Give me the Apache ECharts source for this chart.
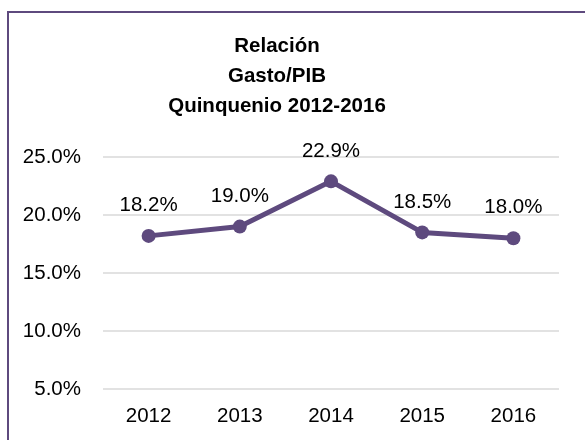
<!DOCTYPE html>
<html>
<head>
<meta charset="utf-8">
<script src="https://cdn.jsdelivr.net/npm/echarts@6/dist/echarts.min.js"></script>
<style>
html,body{margin:0;padding:0;background:#fff;}
#c{width:585px;height:440px;}
</style>
</head>
<body>
<div id="c"></div>
<script>
const titleLines = ['Relación', 'Gasto/PIB', 'Quinquenio 2012-2016'];
const categories = ['2012', '2013', '2014', '2015', '2016'];
const values = [18.2, 19.0, 22.9, 18.5, 18.0];
const yTicks = { min: 5, max: 25, interval: 5 };

const FONT = '"Liberation Sans", Arial, sans-serif';
const PURPLE = '#5e4a7e';

const chart = echarts.init(document.getElementById('c'), null, { renderer: 'canvas' });
chart.setOption({
  backgroundColor: '#ffffff',
  animation: false,
  title: {
    text: titleLines.join('\n'),
    left: 272,
    top: 26,
    textAlign: 'center',
    textStyle: {
      fontFamily: FONT,
      fontWeight: 'bold',
      fontSize: 20.5,
      lineHeight: 30,
      color: '#000'
    }
  },
  graphic: [{
    type: 'rect',
    shape: { x: 8, y: 12, width: 620, height: 500 },
    style: { fill: 'none', stroke: PURPLE, lineWidth: 2 },
    silent: true
  }],
  grid: { left: 103, right: 26, top: 157, bottom: 51 },
  xAxis: {
    type: 'category',
    data: categories,
    boundaryGap: true,
    axisLine: { show: false },
    axisTick: { show: false },
    axisLabel: { fontFamily: FONT, fontSize: 20.5, color: '#000', margin: 17 }
  },
  yAxis: {
    type: 'value',
    min: yTicks.min,
    max: yTicks.max,
    interval: yTicks.interval,
    axisLine: { show: false },
    axisTick: { show: false },
    splitLine: { lineStyle: { color: '#d9d9d9', width: 1.5 } },
    axisLabel: {
      fontFamily: FONT, fontSize: 20.5, color: '#000', margin: 22,
      formatter: v => v.toFixed(1) + '%'
    }
  },
  series: [{
    type: 'line',
    data: values,
    symbol: 'circle',
    symbolSize: 14,
    lineStyle: { color: PURPLE, width: 5 },
    itemStyle: { color: PURPLE },
    label: {
      show: true,
      position: 'top',
      distance: 13,
      fontFamily: FONT,
      fontSize: 20.5,
      color: '#000',
      formatter: p => p.value.toFixed(1) + '%'
    }
  }]
});
</script>
</body>
</html>
